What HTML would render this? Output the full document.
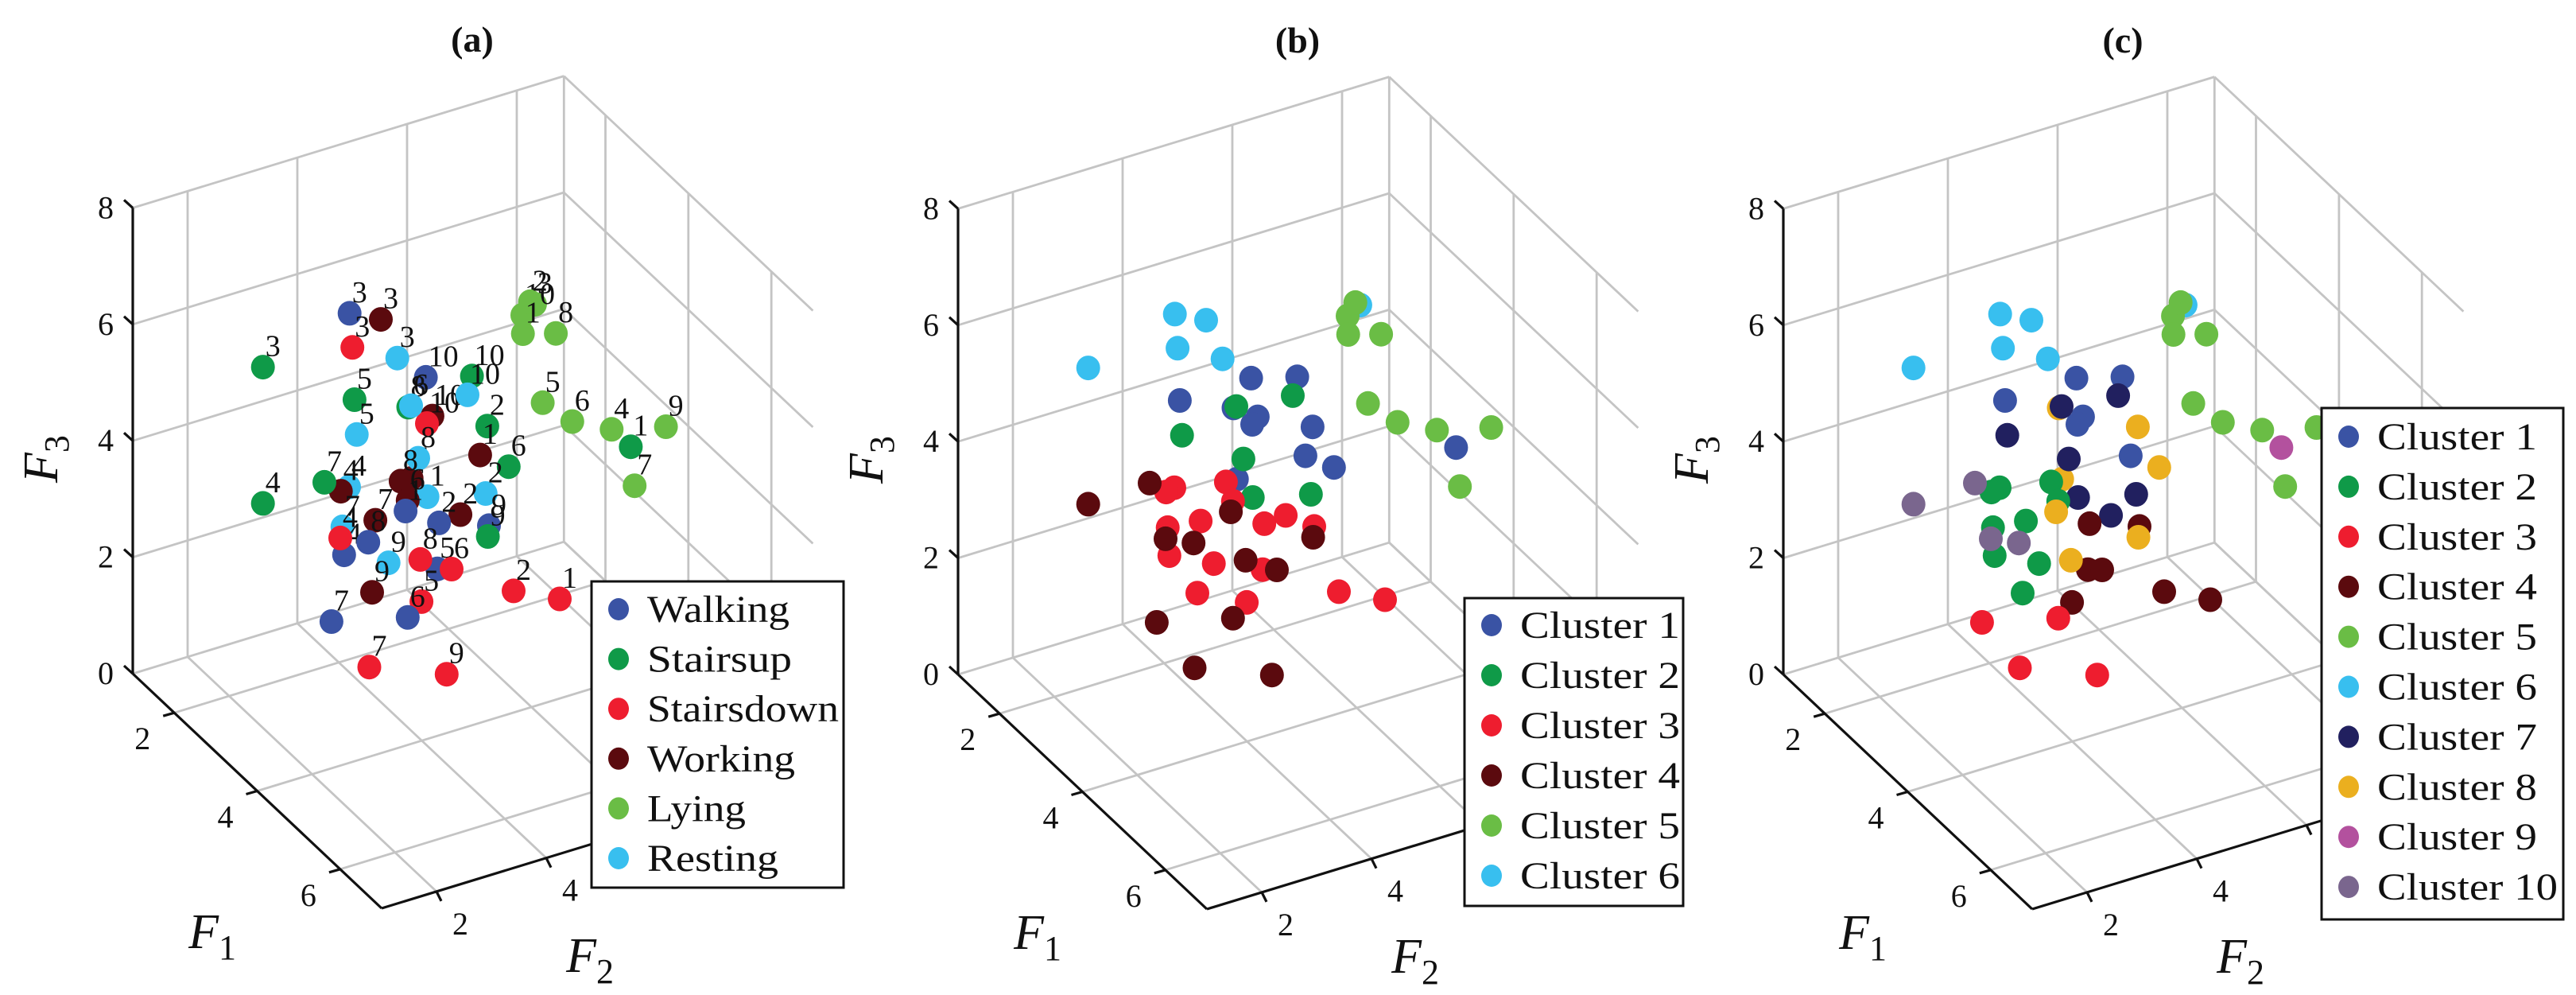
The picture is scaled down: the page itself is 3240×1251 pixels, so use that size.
<!DOCTYPE html>
<html><head><meta charset="utf-8"><style>
html,body{margin:0;padding:0;background:#fff}
svg{display:block}
text{font-family:"Liberation Serif",serif;fill:#111}
</style></head><body>
<svg id="chart" width="3240" height="1251" viewBox="0 0 3240 1251" xmlns="http://www.w3.org/2000/svg">
<rect width="3240" height="1251" fill="#fff"/>
</svg>
<script>
const f1 = [3,3,3,3,3,3,3,3,3,3,3,3,4,4,4,3,3,3,3,3,3,3,3,3,4,3,3,3,3,3,3,3,3,3,3,3,3,3,3,3,3,3,3,3,3,3,3,3,3,3,3,3,3,3,3,3,3,3,3,3];
const f2 = [3.44,4.01,3.49,4.31,1.86,6.82,6.59,6.73,6.60,7.20,6.96,7.50,7.46,8.45,7.88,4.83,5.67,3.53,4.51,4.95,4.85,5.95,5.82,6.34,7.81,4.57,5.59,4.56,3.57,4.69,4.86,5.92,3.43,3.28,4.37,4.50,3.31,3.91,5.46,5.07,5.98,3.34,4.15,5.04,3.85,4.75,6.43,7.27,2.98,1.86,4.46,3.27,3.78,5.96,4.73,5.30,3.11,4.50,3.80,5.21];
const f3 = [6.83,6.56,6.23,5.81,6.36,6.01,5.89,6.08,5.57,5.40,4.28,3.80,4.35,4.11,3.26,5.33,5.11,5.32,4.91,4.63,4.53,4.17,3.71,3.36,3.95,3.67,4.81,4.92,4.71,3.98,3.27,3.02,3.85,3.82,3.68,3.31,3.20,3.14,2.79,2.76,2.45,2.71,2.34,1.98,1.92,1.50,1.20,0.82,4.06,4.02,3.14,3.02,2.80,2.27,2.23,1.90,1.63,1.30,0.65,0.12];
const activity = [0,3,2,5,1,4, 4,4,4,4,4,4,4,4,4, 0,1,1,1,3,2,1,3,1,1,3, 5,5,5,5,5,5, 5,3,3,3,5,3,3,0,0,0,5,0,3,2,2,2, 1,1,0,2,0,1,2,2,0,0,2,2];
const subject = [3,3,3,3,3,3,10,2,1,8,5,6,4,9,7,10,10,5,8,10,10,2,1,6,1,5,10,6,5,8,1,2,4,4,8,6,7,7,2,2,9,4,9,5,9,5,2,1,7,4,1,4,8,9,8,6,7,6,7,9];
const cluster6 = [6,6,6,6,6,6,5,5,5,5,5,5,5,5,5,1,1,1,1,1,1,1,1,1,1,1,2,2,2,2,2,2,3,3,3,3,3,3,3,3,3,3,3,3,3,3,3,3,4,4,4,4,4,4,4,4,4,4,4,4];
const cluster10 = [6,6,6,6,6,6,5,5,5,5,5,5,5,5,5,1,1,1,8,1,1,8,1,8,9,8,7,7,7,7,7,7,2,2,2,2,2,2,7,4,4,2,2,4,2,4,4,4,10,10,8,10,10,8,8,4,3,3,3,3];
const activityNames = ["Walking","Stairsup","Stairsdown","Working","Lying","Resting"];
const activityWidths = [179,182,241,186,124,165];
const ticksF1 = [2,4,6];
const ticksF2 = [2,4,6,8];
const ticksF3 = [0,2,4,6,8];
const actColors = ["#3A53A4","#0F9A48","#EE1D2F","#5B0A0E","#6ABD45","#38BFEF"];
const clColors = ["#3A53A4","#0F9A48","#EE1D2F","#5B0A0E","#6ABD45","#38BFEF","#21205F","#EBAF1F","#B3519E","#7A668E"];

const NS = "http://www.w3.org/2000/svg";
const svg = document.getElementById("chart");
const F1MIN=1,F1MAX=7,F2MIN=1,F2MAX=8.86,F3MIN=0,F3MAX=8;
const U1=[52.17,49.17],U2=[69,-21.1],U3=[0,-73.2];

function mk(tag, attrs, parent){const e=document.createElementNS(NS,tag);for(const k in attrs)e.setAttribute(k,attrs[k]);(parent||svg).appendChild(e);return e;}
function proj(ox,oy,a,b,c){return [ox+U1[0]*(a-F1MIN)+U2[0]*(b-F2MIN), oy+U1[1]*(a-F1MIN)+U2[1]*(b-F2MIN)+U3[1]*c];}

function drawPanel(ox, oy, title, colorFn, withLabels, legendNames, legendColors, legendBox, legendRows, legendWidths){
  const g = mk("g",{});
  
  
  const grid = mk("g",{stroke:"#c4c4c4","stroke-width":"2.8",fill:"none"},g);
  
  
  function line(p,q,parent,attrs){const l=mk("line",Object.assign({x1:p[0].toFixed(1),y1:p[1].toFixed(1),x2:q[0].toFixed(1),y2:q[1].toFixed(1)},attrs||{}),parent);return l;}
  ticksF1.forEach(t=>line(proj(ox,oy,t,F2MIN,0),proj(ox,oy,t,F2MAX,0),grid));
  ticksF2.forEach(t=>line(proj(ox,oy,F1MIN,t,0),proj(ox,oy,F1MAX,t,0),grid));
  line(proj(ox,oy,F1MIN,F2MAX,0),proj(ox,oy,F1MAX,F2MAX,0),grid);
  ticksF2.forEach(t=>line(proj(ox,oy,F1MIN,t,0),proj(ox,oy,F1MIN,t,F3MAX),grid));
  line(proj(ox,oy,F1MIN,F2MAX,0),proj(ox,oy,F1MIN,F2MAX,F3MAX),grid);
  ticksF3.forEach(t=>line(proj(ox,oy,F1MIN,F2MIN,t),proj(ox,oy,F1MIN,F2MAX,t),grid));
  ticksF1.forEach(t=>line(proj(ox,oy,t,F2MAX,0),proj(ox,oy,t,F2MAX,F3MAX),grid));
  ticksF3.forEach(t=>line(proj(ox,oy,F1MIN,F2MAX,t),proj(ox,oy,F1MAX,F2MAX,t),grid));
  const ax = mk("g",{stroke:"#111","stroke-width":"3.2",fill:"none"},g);
  
  
  line(proj(ox,oy,F1MIN,F2MIN,0),proj(ox,oy,F1MIN,F2MIN,F3MAX),ax);
  line(proj(ox,oy,F1MIN,F2MIN,0),proj(ox,oy,F1MAX,F2MIN,0),ax);
  line(proj(ox,oy,F1MAX,F2MIN,0),proj(ox,oy,F1MAX,F2MAX,0),ax);
  ticksF3.forEach(t=>{const p=proj(ox,oy,F1MIN,F2MIN,t);line(p,[p[0]-11,p[1]-10],ax);
    const tx=mk("text",{x:(p[0]-24).toFixed(1),y:(p[1]+13).toFixed(1),"font-size":"40","text-anchor":"end"},g);tx.textContent=t;
    
    });
  ticksF1.forEach(t=>{const p=proj(ox,oy,t,F2MIN,0);line(p,[p[0]-14,p[1]+4],ax);
    const tx=mk("text",{x:(p[0]-40).toFixed(1),y:(p[1]+46).toFixed(1),"font-size":"40","text-anchor":"middle"},g);tx.textContent=t;
    
    });
  ticksF2.forEach(t=>{const p=proj(ox,oy,F1MAX,t,0);line(p,[p[0]+6,p[1]+12],ax);
    const tx=mk("text",{x:(p[0]+30).toFixed(1),y:(p[1]+54).toFixed(1),"font-size":"40","text-anchor":"middle"},g);tx.textContent=t;
    
    });
  const zx=proj(ox,oy,F1MIN,F2MIN,0)[0];
  function ftitle(x,y,sub,rot,name){const t=mk("text",{x:x,y:y,"font-size":"62","font-style":"italic","text-anchor":"middle"},g);
    if(rot)t.setAttribute("transform","rotate(-90 "+x+" "+y+")");
    
    
    t.innerHTML='F<tspan font-size="44" font-style="normal" dy="14">'+sub+'</tspan>';}
  ftitle(zx-95,oy-270,"3",true,"f3-axis-title");
  ftitle(zx+100,oy+345,"1",false,"f1-axis-title");
  ftitle(zx+575,oy+375,"2",false,"f2-axis-title");
  const tt=mk("text",{x:zx+427,y:oy-782,"font-size":"46","font-weight":"bold","text-anchor":"middle"},g);tt.textContent=title;
  
  
  const pts=mk("g",{},g);
  
  
  for(let i=0;i<f1.length;i++){
    const p=proj(ox,oy,f1[i],f2[i],f3[i]);
    const c=mk("ellipse",{cx:p[0].toFixed(1),cy:p[1].toFixed(1),rx:"15",ry:"15.5",fill:colorFn(i)},pts);
    
    
    if(withLabels){const tx=mk("text",{x:(p[0]+3).toFixed(1),y:(p[1]-14).toFixed(1),"font-size":"38"},pts);tx.textContent=subject[i];
      
      }
  }
  const lg=mk("g",{},g);
  
  
  mk("rect",{x:legendBox[0],y:legendBox[1],width:legendBox[2],height:legendBox[3],fill:"#fff",stroke:"#111","stroke-width":"3"},lg);
  legendNames.forEach((n,k)=>{
    const ry=legendRows[0]+k*legendRows[1];
    const e=mk("g",{},lg);
    
    
    mk("ellipse",{cx:legendBox[0]+34,cy:ry,rx:"13",ry:"14",fill:legendColors[k]},e);
    const tx=mk("text",{x:legendBox[0]+70,y:ry+16,"font-size":"48",textLength:legendWidths[k],lengthAdjust:"spacingAndGlyphs"},e);tx.textContent=n;
  });
}

drawPanel(167,847,"(a)",i=>actColors[activity[i]],true,activityNames,actColors,[744,731,317,385],[766,62.6],activityWidths);
drawPanel(1205,848,"(b)",i=>clColors[cluster6[i]-1],false,[1,2,3,4,5,6].map(k=>"Cluster "+k),clColors.slice(0,6),[1842,752,275,387],[786,63],[201,201,201,201,201,201]);
drawPanel(2243,848,"(c)",i=>clColors[cluster10[i]-1],false,[1,2,3,4,5,6,7,8,9,10].map(k=>"Cluster "+k),clColors,[2920,513,304,643],[549,62.9],[201,201,201,201,201,201,201,201,201,227]);
</script>
</body></html>
